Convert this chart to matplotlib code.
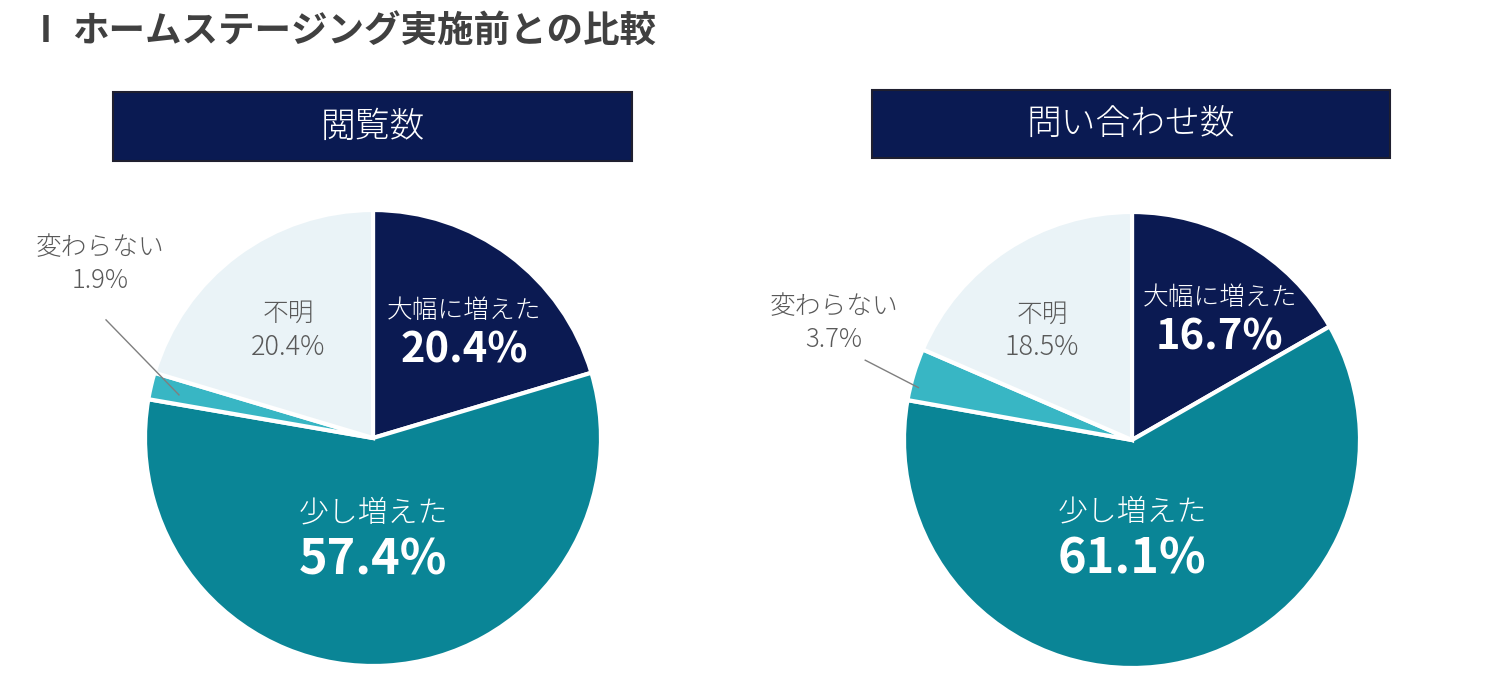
import matplotlib
matplotlib.use("Agg")
import matplotlib.pyplot as plt
from matplotlib.patches import Rectangle

plt.rcParams['font.family'] = ['Noto Sans CJK JP', 'DejaVu Sans']

# ---- data ----
title = "ホームステージング実施前との比較"
chart_titles = ["閲覧数", "問い合わせ数"]
categories = ["大幅に増えた", "少し増えた", "変わらない", "不明"]
views = [20.4, 57.4, 1.9, 20.4]
inquiries = [16.7, 61.1, 3.7, 18.5]
series = [views, inquiries]
colors = ["#0b1a52", "#0a8596", "#38b6c4", "#eaf3f7"]

W, H = 1497, 675
fig = plt.figure(figsize=(W / 100, H / 100), dpi=100)
ax = fig.add_axes([0, 0, 1, 1])
ax.set_xlim(0, W)
ax.set_ylim(0, H)
ax.axis("off")

def Y(ypix):
    return H - ypix

LW = "light"

# title
ax.text(40, Y(31), "I", fontsize=26, fontweight="bold", color="#404040",
        ha="left", va="center")
ax.text(72, Y(31), title, fontsize=26.3, fontweight="bold", color="#404040",
        ha="left", va="center")

# layout for each pie
centers = [(373, 438), (1132, 440)]
radius = 228
boxes = [(113, 92, 632, 161), (872, 90, 1390, 158)]
# label offsets (in radius units) per pie
label_pos = [
    {"big": (0.40, 0.56, 0.385), "small": (0.0, -0.33, -0.535),
     "unk": (-0.373, 0.545, 0.40), "same": (-1.197, 0.835, -1.197, 0.69),
     "line": ((-1.171, 0.518), (-0.851, 0.189))},
    {"big": (0.385, 0.625, 0.45), "small": (0.0, -0.315, -0.52),
     "unk": (-0.395, 0.55, 0.41), "same": (-1.307, 0.585, -1.307, 0.44),
     "line": ((-1.17, 0.35), (-0.937, 0.23))},
]

for i, vals in enumerate(series):
    cx, cy = centers[i]
    cyd = Y(cy)
    ax.pie(vals, colors=colors, startangle=90, counterclock=False,
           center=(cx, cyd), radius=radius,
           wedgeprops=dict(edgecolor="white", linewidth=3))
    # header box
    x0, y0, x1, y1 = boxes[i]
    ax.add_patch(Rectangle((x0, Y(y1)), x1 - x0, y1 - y0, facecolor="#0a1a52",
                           edgecolor="#1f1f2f", linewidth=1.5, zorder=3))
    ax.text((x0 + x1) / 2, Y((y0 + y1) / 2), chart_titles[i], fontsize=25,
            fontweight=LW, color="white", ha="center", va="center", zorder=4)

    lp = label_pos[i]
    r = radius
    # 大幅に増えた
    bx, by1, by2 = lp["big"]
    ax.text(cx + bx * r, cyd + by1 * r, categories[0], fontsize=18.5,
            fontweight=LW, color="white", ha="center", va="center")
    ax.text(cx + bx * r, cyd + by2 * r, f"{vals[0]:.1f}%", fontsize=30,
            fontweight="bold", color="white", ha="center", va="center")
    # 少し増えた
    sx, sy1, sy2 = lp["small"]
    ax.text(cx + sx * r, cyd + sy1 * r, categories[1], fontsize=21.5,
            fontweight=LW, color="white", ha="center", va="center")
    ax.text(cx + sx * r, cyd + sy2 * r, f"{vals[1]:.1f}%", fontsize=35,
            fontweight="bold", color="white", ha="center", va="center")
    # 不明
    ux, uy1, uy2 = lp["unk"]
    ax.text(cx + ux * r, cyd + uy1 * r, categories[3], fontsize=18.5,
            fontweight=LW, color="#595959", ha="center", va="center")
    ax.text(cx + ux * r, cyd + uy2 * r, f"{vals[3]:.1f}%", fontsize=19.5,
            fontweight=LW, color="#595959", ha="center", va="center")
    # 変わらない (outside, with leader line)
    ax1, ay1, ax2, ay2 = lp["same"]
    ax.text(cx + ax1 * r, cyd + ay1 * r, categories[2], fontsize=18.5,
            fontweight=LW, color="#595959", ha="center", va="center")
    ax.text(cx + ax2 * r, cyd + ay2 * r, f"{vals[2]:.1f}%", fontsize=18.5,
            fontweight=LW, color="#595959", ha="center", va="center")
    (lx0, ly0), (lx1, ly1) = lp["line"]
    ax.plot([cx + lx0 * r, cx + lx1 * r], [cyd + ly0 * r, cyd + ly1 * r],
            color="#7f7f7f", linewidth=1)

ax.set_xlim(0, W)
ax.set_ylim(0, H)
ax.set_aspect("auto")
fig.savefig("out.png", dpi=100, facecolor="white")
